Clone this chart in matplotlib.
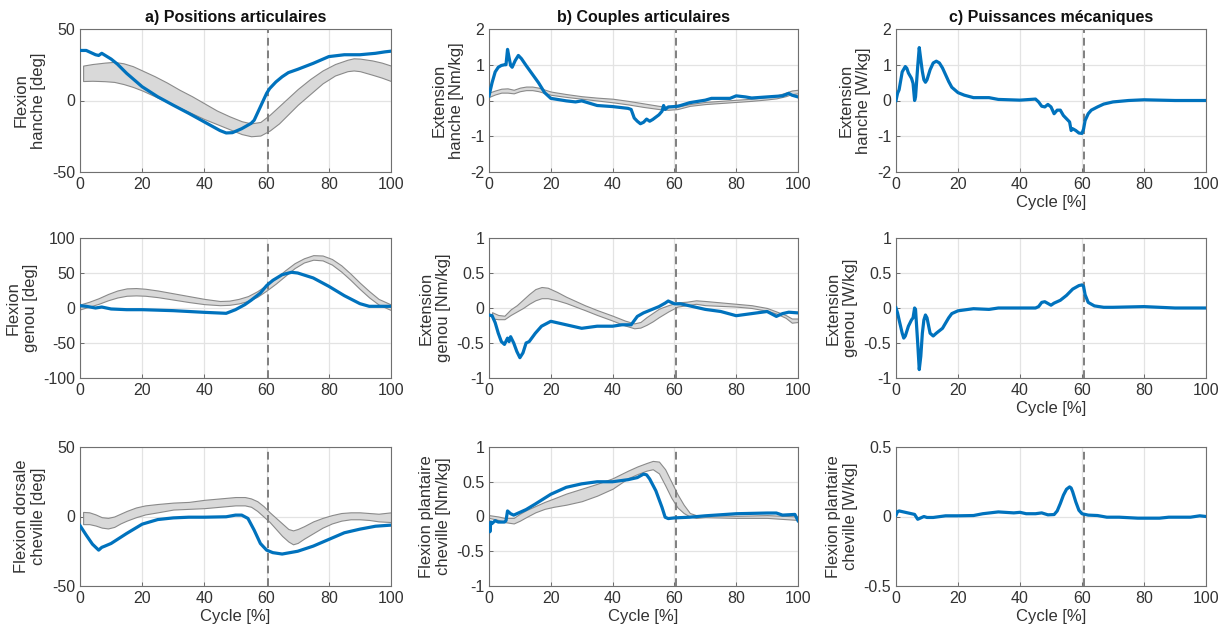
import matplotlib
matplotlib.use('Agg')
import matplotlib.pyplot as plt
import numpy as np

plt.rcParams['font.family'] = ['Liberation Sans', 'DejaVu Sans']

toe_off = 60.5

# ---- hip ----
hip_ang_x = [0, 2, 5, 6, 7, 10, 12, 15, 20, 25, 30, 35, 40, 45, 47, 49, 52, 55, 56, 58, 60, 61, 63, 65, 67, 70, 75, 80, 85, 90, 95, 98, 100]
hip_ang_y = [35, 35, 32, 31.5, 33, 29, 25.5, 19, 9.6, 2.6, -3.3, -9, -15, -21, -22.7, -22.5, -19.7, -16, -13.8, -4.4, 5, 8.4, 13, 16.6, 19.5, 21.8, 26, 30.7, 32, 32, 33, 34, 34.5]
hip_ang_band_x = [1, 4, 8, 11, 14, 17, 20, 24, 28, 32, 36, 40, 44, 48, 52, 55, 58, 61, 64, 67, 70, 74, 78, 82, 86, 88, 90, 94, 97, 100]
hip_ang_lo = [13.6, 13.8, 13.5, 13, 11.5, 9.5, 7, 3, -1, -5, -9, -13, -16.5, -20, -23.5, -25, -24.5, -21, -16, -9.5, -3, 4.5, 12, 17.5, 20.5, 21, 20.5, 18, 16, 13.6]
hip_ang_hi = [24.4, 25.5, 26.5, 27, 26, 24, 21, 17, 12.5, 7.5, 3, -2, -7, -11, -14.5, -16, -15, -10, -4, 2, 8, 15, 21, 25.5, 28.5, 29.5, 29.3, 28, 26.5, 24.4]

hip_mom_x = [0, 1, 2, 3, 4, 5, 5.5, 6, 6.5, 7, 7.5, 8.5, 9.5, 10.5, 12, 14, 16, 18, 20, 25, 28, 30, 35, 40, 45, 46, 47, 48, 49, 50, 51, 52, 53, 55, 56, 56.5, 57, 58, 60, 61, 62, 65, 70, 72, 75, 78, 80, 83, 85, 90, 95, 97, 98, 100]
hip_mom_y = [0.13, 0.5, 0.8, 0.93, 0.98, 1.0, 1.0, 1.43, 1.2, 0.98, 0.93, 1.12, 1.26, 1.17, 0.98, 0.74, 0.5, 0.22, 0.06, -0.01, -0.04, -0.01, -0.14, -0.17, -0.22, -0.25, -0.49, -0.58, -0.65, -0.61, -0.52, -0.58, -0.53, -0.4, -0.3, -0.14, -0.25, -0.18, -0.17, -0.16, -0.14, -0.06, 0.01, 0.06, 0.06, 0.06, 0.13, 0.1, 0.07, 0.1, 0.13, 0.2, 0.15, 0.1]
hip_mom_band_x = [0, 2, 4, 6, 8, 10, 12, 14, 16, 20, 25, 30, 35, 40, 45, 50, 55, 58, 61, 65, 70, 75, 80, 85, 90, 93, 96, 98, 100]
hip_mom_lo = [0.1, 0.17, 0.22, 0.22, 0.2, 0.26, 0.29, 0.29, 0.26, 0.16, 0.1, 0.05, 0.0, -0.05, -0.11, -0.18, -0.24, -0.26, -0.24, -0.15, -0.1, -0.07, -0.04, -0.01, 0.03, 0.06, 0.12, 0.18, 0.2]
hip_mom_hi = [0.22, 0.28, 0.33, 0.34, 0.3, 0.36, 0.39, 0.39, 0.36, 0.25, 0.18, 0.12, 0.08, 0.05, -0.01, -0.08, -0.15, -0.18, -0.17, -0.1, -0.04, -0.01, 0.02, 0.05, 0.1, 0.14, 0.22, 0.28, 0.3]

hip_pow_x = [0, 0.5, 1, 2, 3, 3.5, 4, 5, 5.5, 6, 6.3, 7, 7.5, 8, 8.5, 9, 9.5, 10, 11, 12, 13, 14, 15, 16, 17, 18, 20, 22, 25, 30, 33, 40, 45, 46, 47, 48, 49, 50, 51, 52, 53, 54, 55, 56, 56.5, 57, 58, 59, 60, 60.5, 61, 62, 63, 65, 67, 70, 75, 80, 90, 100]
hip_pow_y = [0, 0.2, 0.3, 0.8, 0.95, 0.9, 0.77, 0.62, 0.48, 0, 0.1, 0.95, 1.48, 1.14, 0.81, 0.58, 0.51, 0.58, 0.86, 1.05, 1.1, 1.05, 0.91, 0.72, 0.53, 0.37, 0.22, 0.15, 0.08, 0.08, 0.03, 0.01, 0.04, -0.04, -0.16, -0.18, -0.11, -0.18, -0.37, -0.27, -0.27, -0.42, -0.51, -0.6, -0.84, -0.79, -0.84, -0.91, -0.92, -0.8, -0.56, -0.37, -0.27, -0.18, -0.1, -0.04, 0, 0.02, 0, 0]

# ---- knee ----
knee_ang_x = [0, 2, 5, 7, 10, 15, 20, 30, 40, 47, 50, 53, 55, 58, 60, 62, 65, 68, 70, 75, 80, 85, 90, 93, 95, 100]
knee_ang_y = [3.3, 2.4, 0, 1.4, -1.4, -2.4, -2.4, -3.8, -6.2, -7.6, -2.4, 4.8, 11, 21.4, 32, 39.5, 47.6, 51, 50, 42.9, 31, 17.6, 6.2, 2.4, 2.4, 2.4]
knee_ang_band_x = [0, 3, 6, 9, 12, 15, 18, 21, 25, 30, 35, 40, 45, 48, 51, 54, 57, 60, 63, 66, 69, 72, 75, 78, 81, 84, 87, 90, 93, 96, 100]
knee_ang_lo = [-2, 2, 6, 11, 15, 17.5, 18, 17.5, 15.5, 12, 8.5, 5.5, 4, 4.5, 6.5, 10, 16, 25, 35, 46, 57, 65, 69, 68, 62, 52, 40, 27, 15, 5, -3]
knee_ang_hi = [5, 9, 14, 20, 25, 28, 28.5, 27.5, 25, 21, 17, 13, 10, 10.5, 13, 17, 24, 33, 43, 54, 64, 71, 75.5, 75, 70, 61, 49, 36, 24, 13, 5]

knee_mom_x = [0, 1, 2, 3, 4, 5, 6, 6.5, 7, 8, 9, 10, 11, 12, 13, 15, 17, 20, 25, 30, 35, 40, 43, 46, 48, 50, 55, 57, 58, 60, 62, 65, 70, 75, 80, 85, 90, 93, 95, 97, 100]
knee_mom_y = [-0.1, -0.11, -0.21, -0.36, -0.48, -0.52, -0.43, -0.48, -0.41, -0.5, -0.62, -0.71, -0.64, -0.5, -0.48, -0.36, -0.26, -0.19, -0.24, -0.29, -0.26, -0.26, -0.24, -0.24, -0.12, -0.07, 0.02, 0.07, 0.1, 0.06, 0.06, 0.03, -0.02, -0.05, -0.11, -0.08, -0.05, -0.12, -0.08, -0.06, -0.07]
knee_mom_band_x = [1, 3, 5, 7, 9, 11, 13, 15, 17, 19, 22, 25, 28, 31, 35, 40, 44, 47, 49, 51, 53, 55, 58, 61, 64, 67, 70, 75, 80, 85, 90, 93, 96, 98, 100]
knee_mom_lo = [-0.15, -0.16, -0.16, -0.1, -0.05, 0.0, 0.06, 0.11, 0.14, 0.14, 0.11, 0.07, 0.02, -0.03, -0.1, -0.18, -0.25, -0.29, -0.28, -0.24, -0.19, -0.13, -0.05, 0.02, 0.04, 0.06, 0.04, 0.03, 0.02, 0.0, -0.04, -0.08, -0.14, -0.21, -0.2]
knee_mom_hi = [-0.06, -0.1, -0.11, -0.02, 0.04, 0.12, 0.2, 0.27, 0.3, 0.29, 0.23, 0.16, 0.1, 0.04, -0.03, -0.11, -0.18, -0.22, -0.2, -0.13, -0.07, -0.01, 0.04, 0.08, 0.09, 0.11, 0.1, 0.08, 0.06, 0.04, 0.0, -0.05, -0.1, -0.15, -0.15]

knee_pow_x = [0, 0.5, 1, 2, 2.5, 3, 4, 5, 5.5, 6, 6.3, 7, 7.5, 8, 8.5, 9, 9.5, 10, 11, 12, 13, 15, 17, 18, 20, 25, 30, 33, 40, 45, 46, 47, 48, 50, 51, 53, 55, 57, 59, 60, 60.5, 61, 62, 64, 67, 70, 80, 90, 95, 100]
knee_pow_y = [0, -0.07, -0.17, -0.36, -0.43, -0.4, -0.26, -0.17, -0.14, 0, -0.02, -0.5, -0.88, -0.69, -0.36, -0.17, -0.1, -0.14, -0.36, -0.4, -0.36, -0.29, -0.14, -0.08, -0.04, -0.01, -0.02, 0, 0, 0, 0.02, 0.08, 0.09, 0.04, 0.07, 0.11, 0.18, 0.27, 0.32, 0.33, 0.31, 0.19, 0.08, 0.03, 0.01, 0.01, 0.02, 0, 0, 0]

# ---- ankle ----
ankle_ang_x = [0, 2, 4, 6, 7, 8, 10, 15, 20, 25, 30, 35, 40, 47, 50, 52, 54, 56, 58, 60, 62, 65, 70, 75, 80, 85, 90, 95, 100]
ankle_ang_y = [-6.5, -13.4, -19.9, -24.2, -22.2, -21.3, -19.4, -12.2, -5.5, -2.2, -1, -0.5, -0.5, -0.2, 1, 1, -1.4, -9.8, -19.4, -24.2, -26, -27, -25, -21.3, -16.5, -11.7, -9.1, -7, -6.2]
ankle_ang_band_x = [1, 3, 5, 7, 9, 11, 13, 15, 18, 21, 25, 30, 35, 40, 45, 50, 53, 55, 57, 59, 61, 63, 65, 67, 68.5, 70, 72, 75, 78, 81, 84, 87, 90, 93, 96, 100]
ankle_ang_lo = [-5.5, -5.5, -6.5, -8, -8.6, -7.5, -5, -3, -0.5, 1.5, 3, 5, 5.5, 6, 7, 8, 8, 7, 4, 0, -4, -9, -14, -18, -20, -19, -16, -12, -8, -5, -3, -2, -2, -2.5, -3.5, -4]
ankle_ang_hi = [3.3, 3, 1.5, -0.5, -1, 0, 2, 4, 6.5, 8, 9, 10, 10.5, 12, 13, 14, 14, 13, 11, 7.5, 3, -1, -5, -9, -10, -9, -7, -3.5, -1, 1, 2.5, 3, 3, 2.5, 2, 3]

ankle_mom_x = [0, 0.3, 0.6, 1, 2, 3, 5, 5.5, 6, 7, 8, 10, 12, 15, 20, 25, 30, 35, 40, 45, 48, 50, 51, 52, 54, 56, 57, 58, 60, 65, 70, 80, 90, 93, 95, 99, 100]
ankle_mom_y = [-0.1, -0.22, -0.08, -0.1, -0.06, -0.08, -0.08, -0.06, 0.08, 0.04, 0.02, 0.06, 0.1, 0.18, 0.32, 0.42, 0.47, 0.5, 0.5, 0.53, 0.56, 0.61, 0.6, 0.54, 0.37, 0.13, -0.01, -0.03, -0.02, -0.01, 0.01, 0.04, 0.05, 0.05, 0.02, 0.03, -0.06]
ankle_mom_band_x = [0, 3, 5, 8, 10, 12, 15, 18, 21, 25, 30, 35, 40, 45, 48, 51, 53, 55, 57, 59, 61, 63, 65, 67, 70, 80, 90, 100]
ankle_mom_lo = [-0.02, -0.05, -0.08, -0.1, -0.06, -0.01, 0.06, 0.11, 0.14, 0.17, 0.22, 0.3, 0.4, 0.55, 0.61, 0.66, 0.68, 0.62, 0.45, 0.27, 0.13, 0.05, 0.0, -0.02, -0.01, -0.02, -0.02, -0.05]
ankle_mom_hi = [0.02, 0.0, -0.02, -0.02, 0.04, 0.09, 0.15, 0.21, 0.26, 0.33, 0.4, 0.47, 0.55, 0.66, 0.72, 0.77, 0.8, 0.79, 0.68, 0.5, 0.32, 0.17, 0.05, 0.02, 0.02, 0.01, 0.02, 0.0]

ankle_pow_x = [0, 0.5, 1, 3, 5, 6, 7, 8, 9, 10, 12, 16, 20, 25, 28, 33, 38, 40, 42, 45, 47, 49, 51, 52, 53, 54, 55, 56, 56.5, 57, 58, 59, 60, 62, 65, 68, 72, 78, 85, 88, 95, 98, 100]
ankle_pow_y = [0.01, 0.035, 0.04, 0.03, 0.02, 0.015, -0.02, -0.01, 0, -0.007, -0.007, 0.005, 0.005, 0.007, 0.02, 0.033, 0.026, 0.03, 0.02, 0.02, 0.026, 0.012, 0.014, 0.04, 0.093, 0.153, 0.196, 0.213, 0.205, 0.177, 0.105, 0.045, 0.02, 0.01, 0.007, -0.005, -0.005, -0.012, -0.012, -0.005, -0.005, 0.005, 0]

titles = ['a) Positions articulaires', 'b) Couples articulaires', 'c) Puissances mécaniques']
ylabels = [
    ['Flexion\nhanche [deg]', 'Extension\nhanche [Nm/kg]', 'Extension\nhanche [W/kg]'],
    ['Flexion\ngenou [deg]', 'Extension\ngenou [Nm/kg]', 'Extension\ngenou [W/kg]'],
    ['Flexion dorsale\ncheville [deg]', 'Flexion plantaire\ncheville [Nm/kg]', 'Flexion plantaire\ncheville [W/kg]'],
]
yticks = [
    [[-50, 0, 50], [-2, -1, 0, 1, 2], [-2, -1, 0, 1, 2]],
    [[-100, -50, 0, 50, 100], [-1, -0.5, 0, 0.5, 1], [-1, -0.5, 0, 0.5, 1]],
    [[-50, 0, 50], [-1, -0.5, 0, 0.5, 1], [-0.5, 0, 0.5]],
]

curves = [
    [(hip_ang_x, hip_ang_y), (hip_mom_x, hip_mom_y), (hip_pow_x, hip_pow_y)],
    [(knee_ang_x, knee_ang_y), (knee_mom_x, knee_mom_y), (knee_pow_x, knee_pow_y)],
    [(ankle_ang_x, ankle_ang_y), (ankle_mom_x, ankle_mom_y), (ankle_pow_x, ankle_pow_y)],
]
bands = [
    [(hip_ang_band_x, hip_ang_lo, hip_ang_hi), (hip_mom_band_x, hip_mom_lo, hip_mom_hi), None],
    [(knee_ang_band_x, knee_ang_lo, knee_ang_hi), (knee_mom_band_x, knee_mom_lo, knee_mom_hi), None],
    [(ankle_ang_band_x, ankle_ang_lo, ankle_ang_hi), (ankle_mom_band_x, ankle_mom_lo, ankle_mom_hi), None],
]

W, H = 1226, 631
col_px = [(80, 391), (489, 798), (896, 1206)]
row_px = [(29, 172), (238, 378), (447, 586)]

fig = plt.figure(figsize=(W / 100, H / 100), dpi=100)
blue = '#0072BD'
txt = '#333333'

for r in range(3):
    for c in range(3):
        x0, x1 = col_px[c]
        y0, y1 = row_px[r]
        ax = fig.add_axes([x0 / W, 1 - y1 / H, (x1 - x0) / W, (y1 - y0) / H])

        band = bands[r][c]
        if band is not None:
            bx, lo, hi = band
            ax.fill_between(bx, lo, hi, facecolor='#d9d9d9', edgecolor='#8a8a8a', linewidth=0.8, zorder=2)
        cx, cy = curves[r][c]
        ax.plot(cx, cy, color=blue, lw=2.3, zorder=4, solid_joinstyle='round')
        ax.axvline(toe_off, color='#7f7f7f', ls='--', lw=1.4, dashes=(4, 2.5), zorder=3)

        yt = yticks[r][c]
        ax.set_xlim(0, 100)
        ax.set_ylim(yt[0], yt[-1])
        ax.set_xticks(np.arange(0, 101, 20))
        ax.set_yticks(yt)
        ax.set_yticklabels([f'{v:g}' for v in yt])
        ax.grid(True, color='#e3e3e3', lw=0.9, zorder=0)
        ax.set_axisbelow(True)
        ax.tick_params(direction='in', length=3, colors='#555555', labelcolor=txt, labelsize=11.5, width=0.6)
        for s in ax.spines.values():
            s.set_color('#707070')
            s.set_linewidth(0.8)
        ax.set_ylabel(ylabels[r][c], fontsize=12, color=txt, labelpad=4)
        if r == 2 or c == 2:
            ax.set_xlabel('Cycle [%]', fontsize=12, color=txt, labelpad=2)
        if r == 0:
            ax.set_title(titles[c], fontsize=11.5, fontweight='bold', color='#111111', pad=5)

fig.savefig('out.png', dpi=100)
